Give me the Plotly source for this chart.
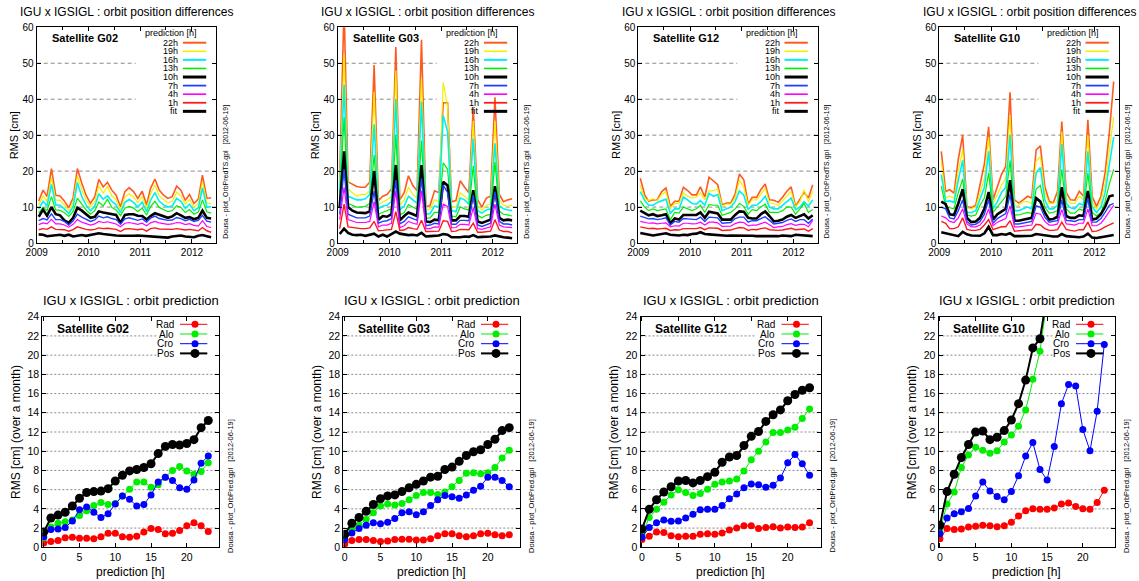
import plotly.graph_objects as go

W, H = 1139, 581
FONT = "Liberation Sans, Arial, Helvetica, sans-serif"

# ---------------- categories ----------------
months = [f"{2009 + i // 12}-{i % 12 + 1:02d}-15" for i in range(41)]
pred_hours = list(range(24))
satellites = ["G02", "G03", "G12", "G10"]
ts_labels = ["22h", "19h", "16h", "13h", "10h", "7h", "4h", "1h", "fit"]
comp_labels = ["Rad", "Alo", "Cro", "Pos"]
year_ticks = ["2009-01-01", "2010-01-01", "2011-01-01", "2012-01-01"]
year_text = ["2009", "2010", "2011", "2012"]
top_yticks = [0, 10, 20, 30, 40, 50, 60]
bot_yticks = list(range(0, 25, 2))

# ---------------- monthly RMS [cm], G02 ----------------
g02_22h = [11.7, 14.7, 12.9, 20.7, 13.3, 13.1, 11.7, 9.8, 12.6, 20.7, 16.6, 13.3, 11.0, 12.9, 17.7, 15.6, 16.9, 14.7, 13.3, 10.1, 14.3, 15.4, 14.3, 12.4, 14.4, 10.6, 15.2, 17.8, 14.7, 13.3, 12.4, 12.9, 15.8, 14.7, 11.9, 13.5, 11.0, 12.2, 18.9, 12.4, 12.6]
g02_19h = [10.6, 13.1, 11.6, 18.2, 12.0, 11.8, 10.6, 9.0, 11.4, 18.6, 14.8, 12.0, 10.0, 11.6, 15.9, 13.9, 15.8, 13.1, 12.0, 9.2, 12.8, 13.7, 12.8, 11.2, 12.9, 9.7, 13.6, 16.2, 13.1, 12.0, 11.2, 11.6, 14.1, 13.1, 10.8, 12.1, 10.0, 11.0, 17.0, 11.2, 10.8]
g02_16h = [9.5, 11.6, 10.3, 16.3, 10.6, 10.5, 9.5, 8.2, 10.1, 16.8, 12.9, 10.6, 9.0, 10.3, 13.7, 12.2, 13.1, 11.6, 10.6, 8.4, 11.3, 12.1, 11.3, 10.0, 11.4, 8.7, 11.9, 14.0, 11.6, 10.6, 10.0, 10.3, 12.4, 11.6, 9.6, 10.8, 9.0, 9.8, 15.3, 10.0, 10.1]
g02_13h = [8.4, 9.9, 9.0, 12.9, 9.2, 9.1, 8.4, 7.4, 8.8, 12.5, 10.8, 9.2, 8.0, 9.0, 11.4, 10.3, 12.2, 9.9, 9.2, 7.6, 9.7, 10.2, 9.7, 8.7, 9.7, 7.8, 10.1, 11.6, 9.9, 9.2, 8.7, 9.0, 10.4, 9.9, 8.5, 9.3, 8.0, 8.6, 12.0, 8.7, 8.3]
g02_10h = [7.3, 9.3, 7.6, 10.0, 8.0, 7.7, 6.3, 5.6, 7.0, 9.8, 9.0, 8.0, 7.0, 7.3, 8.8, 8.5, 8.3, 8.2, 7.8, 5.6, 7.8, 8.0, 8.0, 7.6, 7.5, 6.5, 7.5, 8.3, 7.9, 7.6, 7.0, 7.4, 8.3, 7.7, 7.0, 7.2, 6.6, 7.0, 9.0, 7.0, 6.8]
g02_7h = [6.2, 6.8, 6.4, 8.1, 6.5, 6.5, 6.0, 5.0, 6.2, 8.0, 7.2, 6.5, 6.0, 6.4, 7.5, 7.0, 7.3, 6.8, 6.5, 5.2, 6.7, 7.0, 6.7, 6.3, 6.7, 5.8, 6.9, 7.5, 6.8, 6.5, 6.3, 6.4, 7.1, 6.8, 6.2, 6.6, 6.0, 6.3, 7.7, 6.1, 5.8]
g02_4h = [5.1, 5.6, 5.3, 6.6, 5.3, 5.3, 5.0, 4.4, 5.2, 6.5, 5.8, 5.3, 5.0, 5.3, 6.0, 5.7, 5.9, 5.6, 5.3, 4.5, 5.5, 5.7, 5.5, 5.2, 5.5, 4.8, 5.6, 6.0, 5.6, 5.3, 5.2, 5.3, 5.7, 5.6, 5.1, 5.4, 4.9, 4.7, 6.2, 4.6, 4.3]
g02_1h = [3.7, 4.0, 3.8, 4.5, 3.8, 3.8, 3.7, 3.3, 3.7, 4.5, 4.1, 3.8, 3.6, 3.8, 4.2, 4.0, 4.1, 3.9, 3.8, 3.2, 3.9, 4.0, 3.9, 3.7, 3.9, 3.3, 4.0, 4.2, 3.9, 3.8, 3.7, 3.8, 4.0, 3.9, 3.6, 3.8, 3.5, 3.4, 4.3, 3.4, 3.0]
g02_fit = [2.4, 2.3, 1.9, 2.1, 2.2, 2.3, 2.0, 2.3, 1.8, 2.1, 2.2, 2.0, 2.2, 2.5, 2.7, 2.5, 2.3, 2.2, 2.1, 2.0, 2.0, 1.8, 2.0, 2.1, 2.0, 1.9, 2.0, 1.8, 1.8, 1.6, 1.5, 1.8, 2.0, 2.1, 1.8, 1.7, 1.6, 2.0, 2.2, 1.9, 1.6]

# ---------------- G03 ----------------
g03_22h = [18.0, 66.0, 17.0, 16.3, 15.7, 15.5, 15.5, 17.0, 49.5, 11.8, 13.0, 13.5, 15.0, 54.5, 12.0, 14.0, 18.7, 16.0, 14.5, 56.5, 10.0, 10.5, 14.5, 14.0, 39.0, 39.0, 11.5, 11.8, 17.3, 15.5, 14.0, 37.5, 12.0, 10.0, 12.5, 13.0, 40.5, 13.5, 11.5, 12.0, 12.3]
g03_19h = [16.0, 52.5, 15.0, 14.0, 13.0, 13.5, 13.5, 14.5, 42.0, 10.5, 11.5, 12.0, 13.0, 48.0, 10.5, 12.0, 15.5, 13.5, 12.5, 46.0, 9.0, 9.5, 12.0, 11.5, 44.7, 38.0, 10.0, 10.0, 14.0, 13.0, 12.0, 34.0, 10.5, 9.0, 10.5, 11.0, 34.0, 12.0, 10.5, 10.2, 10.5]
g03_16h = [14.0, 44.0, 13.0, 12.5, 12.0, 12.0, 12.3, 13.5, 33.0, 9.5, 10.3, 10.5, 11.5, 40.0, 9.2, 10.3, 13.0, 12.0, 11.0, 39.3, 8.0, 8.2, 10.3, 10.0, 35.5, 31.0, 9.0, 8.7, 12.5, 12.0, 10.8, 29.0, 9.0, 8.3, 9.2, 9.5, 27.7, 10.3, 9.5, 9.2, 9.0]
g03_13h = [12.0, 35.0, 11.0, 10.5, 10.0, 10.0, 10.2, 11.0, 24.5, 8.0, 8.5, 8.8, 9.5, 30.0, 7.8, 8.5, 10.7, 10.0, 9.3, 28.5, 6.8, 7.0, 8.5, 8.5, 22.3, 20.5, 7.5, 7.3, 10.0, 9.5, 9.2, 21.5, 7.7, 7.0, 7.7, 8.0, 22.5, 8.8, 8.0, 7.8, 7.5]
g03_10h = [10.0, 25.5, 10.0, 9.0, 8.5, 8.5, 8.3, 8.8, 20.0, 6.5, 7.5, 7.3, 8.0, 21.7, 6.3, 7.5, 8.5, 8.0, 7.5, 21.7, 6.0, 5.8, 6.5, 6.3, 17.0, 16.0, 6.3, 6.3, 7.5, 7.5, 7.3, 14.7, 6.0, 5.6, 6.0, 6.5, 15.8, 7.0, 6.3, 6.5, 6.3]
g03_7h = [8.0, 20.5, 8.0, 7.5, 7.0, 7.0, 7.0, 7.5, 14.5, 5.5, 6.0, 6.2, 6.8, 17.5, 5.3, 6.0, 7.3, 6.8, 6.3, 18.0, 4.8, 5.0, 5.5, 5.3, 16.1, 14.0, 5.2, 5.2, 6.3, 6.3, 6.2, 13.4, 5.0, 4.6, 5.0, 5.5, 14.3, 6.0, 5.3, 5.3, 5.0]
g03_4h = [6.5, 15.5, 6.5, 6.0, 5.7, 5.7, 5.7, 6.0, 11.5, 4.5, 5.0, 5.0, 5.5, 14.5, 4.3, 4.8, 6.0, 5.5, 5.2, 14.5, 4.0, 4.0, 4.5, 4.4, 10.8, 10.2, 4.2, 4.3, 5.2, 5.2, 5.0, 9.8, 4.0, 3.8, 4.2, 4.5, 10.8, 5.0, 4.5, 4.5, 4.3]
g03_1h = [4.0, 10.8, 4.5, 4.3, 4.0, 4.0, 4.0, 4.2, 6.0, 3.4, 3.5, 3.6, 3.8, 8.7, 3.5, 3.6, 4.3, 4.0, 3.8, 6.3, 3.2, 3.2, 3.3, 3.3, 6.2, 6.0, 3.2, 3.3, 3.8, 3.8, 3.7, 5.5, 3.0, 3.0, 3.1, 3.3, 6.5, 3.6, 3.2, 3.2, 2.8]
g03_fit = [2.5, 4.0, 2.8, 2.3, 2.2, 2.3, 2.0, 2.3, 2.6, 1.8, 2.3, 1.8, 2.5, 3.2, 2.6, 2.4, 2.2, 2.3, 2.1, 2.8, 1.8, 1.9, 2.0, 2.1, 2.5, 2.3, 1.6, 1.5, 1.6, 1.8, 1.7, 2.2, 1.6, 1.7, 1.7, 1.8, 2.1, 1.8, 1.6, 1.5, 1.3]

# ---------------- G12 ----------------
g12_22h = [18.0, 13.4, 11.6, 12.0, 12.0, 14.3, 15.3, 10.2, 11.6, 11.6, 15.5, 14.6, 13.4, 13.4, 15.6, 12.8, 18.3, 17.1, 16.2, 10.6, 11.1, 11.1, 13.6, 19.2, 17.6, 10.8, 12.7, 12.7, 14.8, 16.4, 12.0, 11.9, 11.3, 12.7, 14.4, 15.6, 10.2, 12.2, 14.1, 12.5, 16.2]
g12_19h = [16.0, 12.3, 11.8, 12.3, 11.8, 13.5, 14.2, 9.5, 11.0, 11.0, 14.0, 13.0, 12.5, 12.8, 14.0, 12.0, 14.5, 14.5, 15.0, 10.3, 10.8, 10.8, 12.5, 17.5, 15.5, 10.5, 12.0, 12.0, 13.5, 15.2, 11.2, 11.0, 10.5, 11.8, 13.2, 14.3, 10.0, 11.5, 14.8, 11.5, 14.3]
g12_16h = [14.3, 11.8, 10.5, 10.5, 11.3, 11.8, 12.2, 8.3, 9.5, 9.5, 12.8, 12.0, 11.0, 10.8, 11.8, 10.5, 13.8, 13.0, 13.5, 9.0, 9.5, 10.0, 11.5, 14.5, 13.3, 9.3, 10.5, 10.5, 11.5, 13.0, 10.0, 9.5, 9.5, 10.5, 11.5, 12.5, 9.3, 10.0, 11.5, 10.3, 12.0]
g12_13h = [11.7, 10.0, 9.0, 9.5, 9.0, 9.3, 9.5, 6.5, 8.5, 8.3, 10.0, 9.5, 9.0, 9.5, 10.5, 8.5, 10.7, 10.5, 10.5, 7.7, 8.2, 8.5, 9.5, 11.0, 10.2, 8.0, 9.3, 9.0, 10.0, 10.8, 8.5, 8.5, 8.5, 9.0, 10.0, 10.0, 8.0, 9.5, 11.0, 8.5, 9.3]
g12_10h = [9.0, 8.3, 7.7, 8.0, 7.5, 7.7, 8.0, 5.5, 6.8, 6.5, 7.8, 7.8, 7.7, 7.8, 8.5, 7.0, 8.7, 8.5, 8.2, 6.5, 6.5, 6.5, 7.8, 8.8, 8.7, 7.0, 6.8, 6.8, 8.0, 8.8, 7.5, 6.0, 6.2, 6.5, 7.3, 7.8, 7.0, 7.5, 8.0, 6.8, 7.7]
g12_7h = [7.5, 7.0, 6.7, 6.8, 6.5, 6.7, 7.0, 5.0, 6.0, 5.8, 6.8, 6.7, 6.5, 6.5, 7.2, 6.0, 7.2, 7.2, 7.0, 5.5, 5.7, 5.7, 6.8, 7.2, 7.2, 5.8, 6.2, 6.2, 6.8, 7.3, 6.3, 5.3, 5.5, 5.7, 6.3, 6.7, 6.0, 6.5, 6.5, 5.5, 6.7]
g12_4h = [6.0, 5.7, 5.5, 5.6, 5.3, 5.5, 5.6, 4.5, 4.8, 4.7, 5.5, 5.5, 5.3, 5.4, 5.8, 5.0, 5.8, 5.8, 5.6, 4.6, 4.7, 4.7, 5.4, 5.8, 5.7, 4.8, 5.0, 5.0, 5.4, 5.8, 5.1, 4.3, 4.5, 4.6, 5.1, 5.4, 4.9, 5.2, 5.2, 4.5, 6.3]
g12_1h = [4.5, 4.2, 4.0, 4.1, 3.9, 4.0, 4.1, 3.5, 3.7, 3.6, 4.0, 4.0, 3.9, 4.0, 4.3, 3.7, 4.2, 4.2, 4.1, 3.5, 3.6, 3.6, 4.0, 4.3, 4.2, 3.5, 3.8, 3.7, 4.0, 4.2, 3.7, 3.5, 3.5, 3.6, 3.9, 4.1, 3.7, 3.8, 3.9, 3.3, 4.0]
g12_fit = [2.8, 2.5, 2.2, 2.1, 2.3, 2.5, 2.7, 2.3, 2.1, 2.1, 2.3, 2.2, 2.5, 2.6, 3.0, 2.5, 2.4, 2.3, 2.2, 2.0, 2.0, 2.1, 2.1, 2.2, 2.2, 2.0, 2.0, 1.9, 1.8, 1.9, 1.9, 1.8, 1.9, 2.1, 1.9, 1.9, 2.3, 2.2, 2.1, 1.9, 1.9]

# ---------------- G10 ----------------
g10_22h = [25.5, 14.3, 14.8, 13.9, 23.3, 30.1, 10.0, 9.8, 10.5, 16.5, 22.0, 32.3, 12.0, 15.7, 19.0, 21.3, 41.9, 12.0, 11.1, 12.0, 13.0, 12.5, 25.9, 27.0, 15.7, 11.6, 11.1, 14.4, 33.8, 14.1, 12.0, 11.9, 14.4, 13.0, 34.3, 13.0, 10.2, 13.0, 19.4, 31.0, 44.9]
g10_19h = [22.7, 12.5, 13.0, 12.5, 20.0, 26.0, 9.8, 9.5, 10.0, 14.0, 18.0, 29.5, 11.0, 13.5, 16.0, 18.0, 35.5, 10.5, 10.5, 11.5, 11.5, 11.0, 22.8, 24.0, 14.0, 11.0, 11.0, 12.0, 31.0, 12.5, 11.0, 11.0, 13.0, 12.0, 30.0, 11.5, 9.5, 11.5, 16.5, 26.0, 35.0]
g10_16h = [19.0, 11.5, 11.7, 11.3, 17.5, 23.0, 8.5, 8.5, 9.0, 12.0, 15.5, 25.5, 9.5, 11.5, 14.0, 15.5, 30.0, 9.0, 9.0, 9.5, 10.0, 9.5, 19.5, 21.0, 12.0, 9.5, 9.5, 10.5, 27.5, 11.0, 9.8, 9.5, 11.0, 10.5, 25.5, 10.0, 8.5, 10.0, 14.0, 22.0, 29.5]
g10_13h = [15.8, 10.0, 9.8, 9.5, 14.0, 17.8, 7.8, 7.5, 7.8, 10.5, 12.5, 19.5, 8.5, 10.0, 11.5, 13.0, 23.0, 7.8, 7.8, 8.2, 8.5, 8.2, 15.0, 16.0, 10.0, 8.3, 8.5, 9.0, 20.5, 9.5, 8.3, 8.3, 9.5, 9.0, 19.5, 8.5, 7.5, 8.5, 11.5, 16.5, 20.5]
g10_10h = [11.5, 10.8, 8.0, 7.8, 11.0, 15.0, 7.0, 5.8, 6.0, 7.0, 9.5, 14.2, 6.5, 8.0, 8.7, 9.5, 17.5, 6.2, 6.2, 6.4, 6.8, 7.0, 12.5, 11.5, 8.5, 6.5, 6.7, 7.3, 15.5, 7.5, 7.0, 7.0, 7.7, 7.5, 14.5, 6.5, 6.8, 8.0, 10.0, 13.0, 13.3]
g10_7h = [10.0, 9.5, 7.0, 6.7, 9.0, 12.0, 6.0, 5.0, 5.2, 6.0, 8.0, 12.0, 5.5, 6.8, 7.5, 8.2, 13.5, 5.3, 5.3, 5.5, 5.8, 6.0, 10.3, 10.0, 7.2, 5.8, 6.0, 6.2, 12.0, 6.3, 6.2, 6.0, 6.5, 6.5, 12.5, 5.8, 5.8, 6.8, 8.5, 10.5, 11.0]
g10_4h = [7.5, 7.0, 6.0, 5.7, 7.0, 9.5, 5.3, 4.5, 4.5, 5.0, 6.5, 9.5, 4.8, 5.8, 6.3, 6.8, 10.3, 4.5, 4.5, 4.7, 5.0, 5.0, 8.3, 8.0, 6.0, 5.0, 5.0, 5.3, 9.3, 5.3, 5.2, 5.0, 5.5, 5.5, 9.5, 4.8, 4.8, 5.5, 7.0, 8.8, 10.5]
g10_1h = [6.0, 5.5, 4.0, 4.0, 4.5, 7.0, 3.8, 3.5, 3.5, 3.8, 5.0, 6.5, 3.7, 4.2, 4.5, 4.5, 6.2, 3.3, 3.3, 3.5, 3.6, 3.6, 5.2, 5.0, 4.0, 3.5, 3.5, 3.7, 5.8, 3.8, 3.5, 3.3, 3.7, 3.7, 5.8, 3.2, 3.3, 3.8, 4.5, 5.0, 5.6]
g10_fit = [3.0, 2.7, 2.3, 2.1, 1.9, 3.1, 2.4, 2.1, 2.0, 2.0, 2.7, 4.5, 2.2, 2.2, 2.5, 2.3, 2.7, 1.9, 1.9, 1.9, 2.0, 2.0, 2.5, 2.3, 2.0, 1.8, 1.8, 1.8, 2.5, 1.9, 1.8, 1.6, 1.6, 1.8, 2.6, 1.5, 1.4, 1.6, 1.8, 2.1, 2.2]

# ---------------- prediction RMS (over a month) [cm] ----------------
g02_rad = [0.45, 0.6, 0.7, 1.0, 1.05, 0.95, 0.95, 0.9, 1.1, 1.45, 1.45, 1.1, 1.05, 1.15, 1.6, 1.95, 1.85, 1.4, 1.45, 1.75, 2.25, 2.55, 2.25, 1.65]
g02_alo = [1.0, 2.1, 2.5, 2.65, 2.85, 3.3, 3.8, 4.35, 4.65, 4.45, 4.55, 5.35, 6.05, 6.8, 6.8, 6.25, 6.5, 7.3, 8.0, 8.4, 7.95, 7.6, 7.9, 8.8]
g02_cro = [1.1, 1.85, 1.9, 2.05, 2.75, 3.9, 4.2, 3.65, 3.1, 3.5, 4.5, 5.35, 5.0, 4.3, 4.45, 5.45, 6.8, 7.3, 6.95, 6.2, 6.05, 7.0, 8.75, 9.5]
g02_pos = [1.6, 3.05, 3.35, 3.65, 4.3, 5.1, 5.7, 5.8, 5.85, 6.1, 6.9, 7.5, 7.95, 8.1, 8.3, 8.7, 9.75, 10.5, 10.7, 10.65, 10.8, 11.2, 12.45, 13.2]

g03_rad = [0.35, 0.7, 0.8, 0.8, 0.7, 0.6, 0.65, 0.8, 0.85, 0.85, 0.75, 0.75, 0.9, 1.2, 1.4, 1.4, 1.2, 1.1, 1.2, 1.4, 1.45, 1.3, 1.2, 1.3]
g03_alo = [0.9, 1.9, 2.3, 2.9, 3.6, 4.3, 4.5, 4.4, 4.55, 4.95, 5.4, 5.7, 5.7, 5.5, 5.75, 6.3, 6.95, 7.7, 7.75, 7.65, 7.75, 8.3, 9.3, 10.1]
g03_cro = [0.8, 1.5, 1.95, 2.3, 2.55, 2.45, 2.6, 3.0, 3.6, 3.7, 3.4, 3.7, 4.35, 4.95, 5.4, 5.25, 5.1, 5.45, 5.95, 6.35, 7.3, 7.3, 6.95, 6.3]
g03_pos = [1.35, 2.5, 3.1, 3.75, 4.45, 5.05, 5.35, 5.45, 5.8, 6.2, 6.55, 6.9, 7.3, 7.4, 8.1, 8.35, 8.95, 9.55, 9.95, 10.15, 10.7, 11.25, 12.15, 12.45]

g12_rad = [0.8, 1.15, 1.6, 1.55, 1.2, 1.1, 1.15, 1.15, 1.35, 1.4, 1.35, 1.5, 1.8, 2.0, 2.25, 2.25, 1.95, 2.05, 2.15, 2.0, 2.1, 2.05, 2.1, 2.55]
g12_alo = [1.3, 3.1, 3.95, 4.7, 5.45, 6.0, 5.7, 5.4, 5.6, 6.05, 6.55, 6.8, 6.9, 7.1, 7.95, 9.1, 10.0, 10.95, 11.95, 11.95, 12.2, 12.5, 13.4, 14.4]
g12_cro = [1.05, 2.05, 2.55, 2.85, 2.7, 2.75, 3.05, 3.45, 3.9, 3.95, 3.95, 4.35, 5.05, 5.55, 6.2, 6.6, 6.5, 6.25, 6.45, 7.2, 8.8, 9.65, 8.7, 7.5]
g12_pos = [1.9, 3.95, 4.95, 5.75, 6.3, 6.9, 6.95, 6.7, 6.95, 7.35, 7.8, 8.85, 9.4, 9.55, 10.6, 11.55, 12.05, 13.1, 13.8, 14.3, 15.25, 15.9, 16.35, 16.6]

g10_rad = [0.9, 1.95, 1.85, 1.9, 2.1, 2.2, 2.3, 2.25, 2.15, 2.25, 2.6, 3.25, 3.8, 4.0, 3.95, 3.95, 4.1, 4.5, 4.6, 4.25, 4.0, 3.95, 4.65, 5.95]
g10_alo = [1.7, 4.5, 5.75, 8.3, 9.6, 10.4, 10.1, 9.8, 10.05, 10.95, 11.7, 12.6, 14.3, 17.5, 20.4, 25.8, 30.0, 33.0, 35.0, 36.0, 36.0, 38.0, 41.0, 44.0]
g10_cro = [1.4, 3.05, 3.5, 3.7, 4.05, 5.35, 6.8, 5.85, 5.3, 4.95, 5.8, 7.45, 9.5, 10.9, 8.1, 7.0, 10.5, 14.95, 16.95, 16.8, 12.25, 10.05, 14.15, 21.1]
g10_pos = [2.3, 5.8, 7.6, 9.35, 10.7, 12.0, 12.1, 11.2, 11.45, 12.15, 13.25, 14.95, 17.4, 20.75, 21.7, 26.8, 32.0, 37.0, 40.0, 41.0, 39.0, 40.0, 44.0, 50.0]

ts_data = {
    "G02": [g02_22h, g02_19h, g02_16h, g02_13h, g02_10h, g02_7h, g02_4h, g02_1h, g02_fit],
    "G03": [g03_22h, g03_19h, g03_16h, g03_13h, g03_10h, g03_7h, g03_4h, g03_1h, g03_fit],
    "G12": [g12_22h, g12_19h, g12_16h, g12_13h, g12_10h, g12_7h, g12_4h, g12_1h, g12_fit],
    "G10": [g10_22h, g10_19h, g10_16h, g10_13h, g10_10h, g10_7h, g10_4h, g10_1h, g10_fit],
}
pred_data = {
    "G02": [g02_rad, g02_alo, g02_cro, g02_pos],
    "G03": [g03_rad, g03_alo, g03_cro, g03_pos],
    "G12": [g12_rad, g12_alo, g12_cro, g12_pos],
    "G10": [g10_rad, g10_alo, g10_cro, g10_pos],
}
for s in satellites:
    for arr in ts_data[s]:
        assert len(arr) == len(months), (s, len(arr))
    for arr in pred_data[s]:
        assert len(arr) == len(pred_hours), (s, len(arr))

# ---------------- styles ----------------
ts_colors = ["#ff5a1e", "#f2f000", "#00f0f0", "#00ee00", "#000000", "#2040ff", "#ff00ff", "#ff1a1a", "#000000"]
ts_widths = [1.6, 1.2, 1.6, 1.2, 2.6, 1.4, 1.2, 1.4, 2.6]
comp_colors = ["#ff0000", "#00ee00", "#0000ff", "#000000"]
comp_lw = [1, 1, 1, 2]
comp_ms = [7, 7, 7, 9]
GRID = "#8a8a8a"

# panel geometry in pixels (left, right) and (top, bottom)
top_x = [(36.7, 216.2), (337.7, 517.2), (638.3, 817.8), (939.3, 1118.8)]
top_tb = (27.3, 243.0)
bot_x = [(42.3, 219.0), (343.3, 520.0), (640.5, 820.5), (938.5, 1115.0)]
bot_tb = (316.7, 547.3)


def px(x):
    return x / W


def py(y):
    return 1 - y / H


fig = go.Figure()
layout = dict(
    width=W, height=H, margin=dict(l=0, r=0, t=0, b=0, pad=0, autoexpand=False),
    paper_bgcolor="white", plot_bgcolor="white",
    font=dict(family=FONT, color="black"), showlegend=False,
)
shapes, annotations = [], []

axis_common = dict(showline=True, linecolor="black", linewidth=1, mirror="ticks",
                   ticks="inside", tickcolor="black", ticklen=4, zeroline=False,
                   showgrid=False, automargin=False)

for k, sat in enumerate(satellites):
    # ---------- top: time series ----------
    n = k + 1
    xa, ya = ("x" if n == 1 else f"x{n}"), ("y" if n == 1 else f"y{n}")
    L, R = top_x[k]
    T, B = top_tb
    layout["xaxis" if n == 1 else f"xaxis{n}"] = dict(
        axis_common, domain=[px(L), px(R)], anchor=ya, type="date",
        range=["2009-01-01", "2012-06-20"], tickmode="array",
        tickvals=year_ticks, ticktext=year_text,
        tickfont=dict(size=10),
        minor=dict(tickmode="array", tickvals=["2009-07-01", "2010-07-01", "2011-07-01"],
                   ticks="inside", ticklen=3, tickcolor="black", showgrid=False),
    )
    layout["yaxis" if n == 1 else f"yaxis{n}"] = dict(
        axis_common, domain=[py(B), py(T)], anchor=xa, range=[0, 60],
        tickmode="array", tickvals=top_yticks, tickfont=dict(size=10),
    )
    # dashed grid, interrupted by the key box
    key_left = 99 / (R - L)
    key_bottom = 35.5
    for v in top_yticks[1:-1]:
        shapes.append(dict(type="line", xref=f"{xa} domain", yref=ya, x0=0,
                           x1=(key_left if v > key_bottom else 1), y0=v, y1=v,
                           line=dict(color=GRID, width=1, dash="4px,3px"), layer="below"))
    for j, lab in enumerate(ts_labels):
        fig.add_trace(go.Scatter(
            x=months, y=ts_data[sat][j], mode="lines", xaxis=xa, yaxis=ya,
            line=dict(color=ts_colors[j], width=ts_widths[j]), hoverinfo="skip",
            showlegend=False))
    annotations += [
        dict(text="IGU x IGSIGL : orbit position differences", x=px((L + R) / 2), y=py(12.5),
             xref="paper", yref="paper", showarrow=False, font=dict(size=12),
             xanchor="center", yanchor="middle"),
        dict(text="RMS [cm]", x=px(L - 22.5), y=py((T + B) / 2), xref="paper", yref="paper",
             showarrow=False, textangle=-90, font=dict(size=11),
             xanchor="center", yanchor="middle"),
        dict(text="Dousa - plot_OrbPredTS.gpl   [2012-06-19]", x=px(R + 9), y=py(171.5),
             xref="paper", yref="paper", showarrow=False, textangle=-90, font=dict(size=7),
             xanchor="center", yanchor="middle"),
        dict(text=f"<b>Satellite {sat}</b>", x=px(L + 13), y=py(38.3), xref="paper",
             yref="paper", showarrow=False, font=dict(size=11), xanchor="left", yanchor="middle"),
        dict(text="prediction [h]", x=px(R - 17.5), y=py(33.5), xref="paper", yref="paper",
             showarrow=False, font=dict(size=9), xanchor="right", yanchor="middle"),
    ]
    for j, lab in enumerate(ts_labels):
        yy = 42.7 + j * 8.58
        annotations.append(dict(text=lab, x=px(R - 36), y=py(yy), xref="paper", yref="paper",
                                showarrow=False, font=dict(size=9), xanchor="right",
                                yanchor="middle"))
        shapes.append(dict(type="line", xref="paper", yref="paper", x0=px(R - 33.3),
                           x1=px(R - 10), y0=py(yy), y1=py(yy),
                           line=dict(color=ts_colors[j], width=ts_widths[j] + 0.4)))

    # ---------- bottom: prediction ----------
    n = k + 5
    xa, ya = f"x{n}", f"y{n}"
    L, R = bot_x[k]
    T, B = bot_tb
    layout[f"xaxis{n}"] = dict(
        axis_common, domain=[px(L), px(R)], anchor=ya, range=[-0.2, 24.5],
        tickmode="array", tickvals=[0, 5, 10, 15, 20], tickfont=dict(size=10.5),
    )
    layout[f"yaxis{n}"] = dict(
        axis_common, domain=[py(B), py(T)], anchor=xa, range=[0, 24],
        tickmode="array", tickvals=bot_yticks, tickfont=dict(size=10.5),
    )
    key_left = 114.4 / (R - L)
    key_bottom = 19.5
    for v in bot_yticks[1:-1]:
        shapes.append(dict(type="line", xref=f"{xa} domain", yref=ya, x0=0,
                           x1=(key_left if v > key_bottom else 1), y0=v, y1=v,
                           line=dict(color=GRID, width=1, dash="2px,2px"), layer="below"))
    for j, lab in enumerate(comp_labels):
        fig.add_trace(go.Scatter(
            x=pred_hours, y=pred_data[sat][j], mode="lines+markers", xaxis=xa, yaxis=ya,
            line=dict(color=comp_colors[j], width=comp_lw[j]),
            marker=dict(color=comp_colors[j], size=comp_ms[j]), hoverinfo="skip",
            showlegend=False))
    annotations += [
        dict(text="IGU x IGSIGL : orbit prediction", x=px((L + R) / 2), y=py(300),
             xref="paper", yref="paper", showarrow=False, font=dict(size=13),
             xanchor="center", yanchor="middle"),
        dict(text="RMS [cm] (over a month)", x=px(L - 26.3), y=py((T + B) / 2),
             xref="paper", yref="paper", showarrow=False, textangle=-90, font=dict(size=12),
             xanchor="center", yanchor="middle"),
        dict(text="prediction [h]", x=px((L + R) / 2), y=py(571.5), xref="paper",
             yref="paper", showarrow=False, font=dict(size=12), xanchor="center",
             yanchor="middle"),
        dict(text="Dousa - plot_OrbPred.gpl   [2012-06-19]", x=px(R + 11), y=py(486),
             xref="paper", yref="paper", showarrow=False, textangle=-90, font=dict(size=7.5),
             xanchor="center", yanchor="middle"),
        dict(text=f"<b>Satellite {sat}</b>", x=px(L + 12.7), y=py(329), xref="paper",
             yref="paper", showarrow=False, font=dict(size=12), xanchor="left", yanchor="middle"),
    ]
    for j, lab in enumerate(comp_labels):
        yy = 324.3 + j * 9.7
        annotations.append(dict(text=lab, x=px(R - 43.3), y=py(yy), xref="paper",
                                yref="paper", showarrow=False, font=dict(size=10),
                                xanchor="right", yanchor="middle"))
        shapes.append(dict(type="line", xref="paper", yref="paper", x0=px(R - 39),
                           x1=px(R - 11.7), y0=py(yy), y1=py(yy),
                           line=dict(color=comp_colors[j], width=comp_lw[j])))
        r = comp_ms[j] / 2
        shapes.append(dict(type="circle", xref="paper", yref="paper", xsizemode="pixel",
                           ysizemode="pixel", xanchor=px(R - 24), yanchor=py(yy),
                           x0=-r, x1=r, y0=-r, y1=r, fillcolor=comp_colors[j],
                           line=dict(width=0)))

layout["shapes"] = shapes
layout["annotations"] = annotations
fig.update_layout(**layout)
fig.write_html("out.html")
